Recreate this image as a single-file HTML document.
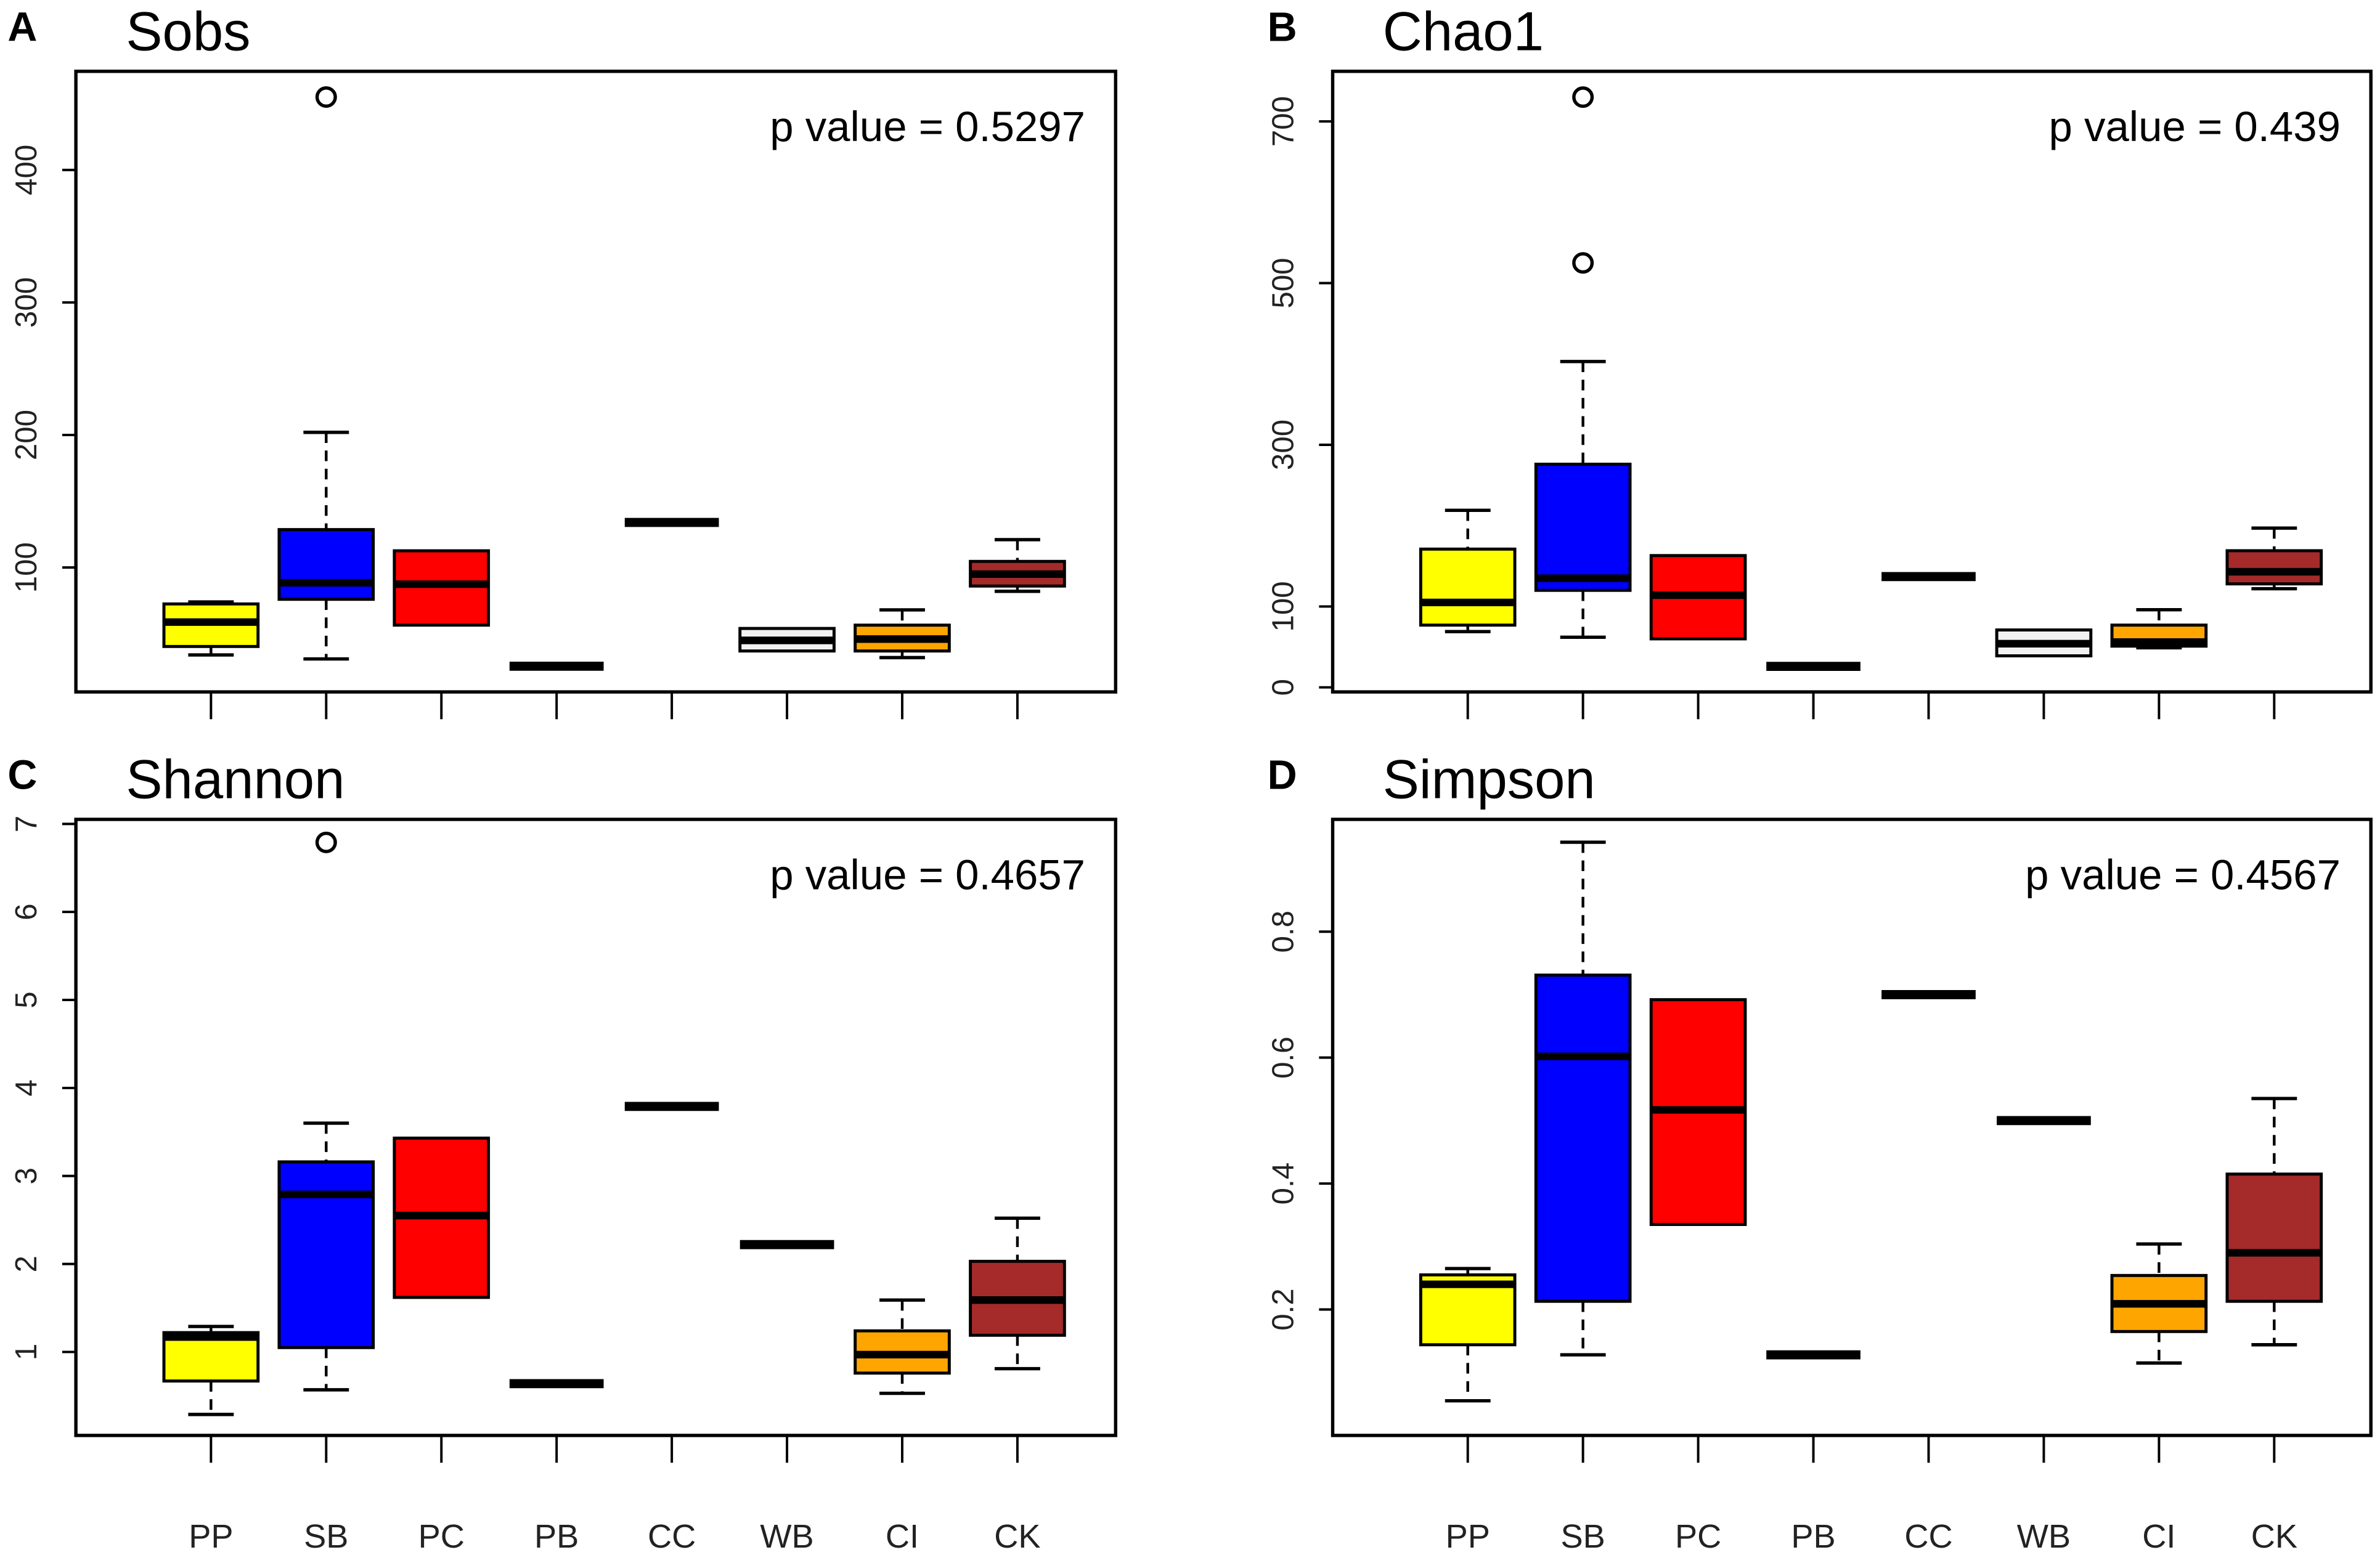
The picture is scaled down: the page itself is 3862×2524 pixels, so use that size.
<!DOCTYPE html>
<html><head><meta charset="utf-8"><style>
html,body{margin:0;padding:0;background:#fff}
svg{display:block}
text{font-family:"Liberation Sans",sans-serif}
</style></head><body>
<svg id="fig" width="3862" height="2524" viewBox="0 0 1568 1024.8" preserveAspectRatio="none" xmlns="http://www.w3.org/2000/svg"></svg>
<script>
const categories = ["PP","SB","PC","PB","CC","WB","CI","CK"];
const fills = ["#ffff00","#0000ff","#ff0000","#000","#000","#f2f2f2","#ffa500","#a52a2a"];

// Sobs
const sobsLo  = [34, 31, 56.5, 25.5, 134, 37, 32, 82];
const sobsQ1  = [40.4, 76, 56.5, 25.5, 134, 37, 37, 86];
const sobsMed = [58.8, 88.5, 87.4, 25.5, 134, 45, 46, 95];
const sobsQ3  = [72.5, 128.6, 112.6, 25.5, 134, 54, 56.5, 104.6];
const sobsHi  = [74, 202, 112.6, 25.5, 134, 54, 68, 121];
const sobsOut = [[], [455], [], [], [], [], [], []];
const sobsTicks = [100, 200, 300, 400];

// Chao1
const chaoLo  = [69, 62, 60, 26, 137, 39, 49, 122];
const chaoQ1  = [77, 120, 60, 26, 137, 39, 51, 128];
const chaoMed = [105, 135, 114, 26, 137, 54, 56, 143];
const chaoQ3  = [171, 276, 163, 26, 137, 71, 77, 169];
const chaoHi  = [219, 403, 163, 26, 137, 71, 96, 197];
const chaoOut = [[], [730, 525], [], [], [], [], [], []];
const chaoTicks = [0, 100, 300, 500, 700];

// Shannon
const shanLo  = [0.29, 0.57, 1.62, 0.64, 3.79, 2.22, 0.53, 0.81];
const shanQ1  = [0.67, 1.05, 1.62, 0.64, 3.79, 2.22, 0.76, 1.19];
const shanMed = [1.17, 2.79, 2.55, 0.64, 3.79, 2.22, 0.97, 1.59];
const shanQ3  = [1.22, 3.16, 3.43, 0.64, 3.79, 2.22, 1.24, 2.03];
const shanHi  = [1.29, 3.6, 3.43, 0.64, 3.79, 2.22, 1.59, 2.52];
const shanOut = [[], [6.79], [], [], [], [], [], []];
const shanTicks = [1, 2, 3, 4, 5, 6, 7];

// Simpson
const simpLo  = [0.055, 0.128, 0.335, 0.128, 0.70, 0.50, 0.115, 0.144];
const simpQ1  = [0.144, 0.213, 0.335, 0.128, 0.70, 0.50, 0.165, 0.213];
const simpMed = [0.24, 0.602, 0.517, 0.128, 0.70, 0.50, 0.209, 0.29];
const simpQ3  = [0.255, 0.731, 0.692, 0.128, 0.70, 0.50, 0.254, 0.415];
const simpHi  = [0.265, 0.942, 0.692, 0.128, 0.70, 0.50, 0.304, 0.535];
const simpOut = [[], [], [], [], [], [], [], []];
const simpTicks = [0.2, 0.4, 0.6, 0.8];

const NS = "http://www.w3.org/2000/svg";
const svg = document.getElementById("fig");
function mk(tag, attrs, parent) {
  const e = document.createElementNS(NS, tag);
  for (const k in attrs) e.setAttribute(k, attrs[k]);
  (parent || svg).appendChild(e);
  return e;
}

function panel(o) {
  const g = mk("g", {});
  
  
  const L = o.x0, R = o.x1, T = o.y0, B = o.y1;
  const yS = v => o.py1 + (v - o.v1) * (o.py2 - o.py1) / (o.v2 - o.v1);
  const xS = i => L + 89 + i * 75.9;

  const lt = mk("text", {x: o.lx, y: T - 20, "font-size": 27, "font-weight": "bold"}, g);
  lt.textContent = o.letter;
  
  
  const tt = mk("text", {x: L + 33, y: T - 14, "font-size": 36}, g);
  tt.textContent = o.title;
  
  

  const fr = mk("rect", {x: L, y: T, width: R - L, height: B - T, fill: "none", stroke: "#000", "stroke-width": 2.2}, g);
  
  

  const pv = mk("text", {x: R - 20, y: T + 46, "font-size": 28, "text-anchor": "end"}, g);
  pv.textContent = o.p;
  
  

  o.ticks.forEach(v => {
    const y = yS(v);
    const tk = mk("line", {x1: L - 9, x2: L, y1: y, y2: y, stroke: "#000", "stroke-width": 1.6}, g);
    
    
    const tl = mk("text", {x: L - 26, y: y, "font-size": 20, "text-anchor": "middle", transform: `rotate(-90 ${L - 26} ${y})`, fill: "#222"}, g);
    tl.textContent = String(v);
    
    
  });

  categories.forEach((c, i) => {
    const x = xS(i);
    const xt = mk("line", {x1: x, x2: x, y1: B, y2: B + 18, stroke: "#000", "stroke-width": 1.6}, g);
    
    
    if (o.xlabels) {
      const xl = mk("text", {x: x, y: 1020, "font-size": 22, "text-anchor": "middle", fill: "#222"}, g);
      xl.textContent = c;
      
      
    }
    const bg = mk("g", {}, g);
    
    
    const lo = o.lo[i], q1 = o.q1[i], md = o.med[i], q3 = o.q3[i], hi = o.hi[i];
    const hw = 31, cw = 15;
    if (q1 === q3) {
      const ln = mk("line", {x1: x - hw, x2: x + hw, y1: yS(md), y2: yS(md), stroke: "#000", "stroke-width": 6}, bg);
      
      
    } else {
      if (hi > q3) {
        mk("line", {x1: x, x2: x, y1: yS(hi), y2: yS(q3), stroke: "#000", "stroke-width": 1.8, "stroke-dasharray": "7 5"}, bg);
        mk("line", {x1: x - cw, x2: x + cw, y1: yS(hi), y2: yS(hi), stroke: "#000", "stroke-width": 2.2}, bg);
      }
      if (lo < q1) {
        mk("line", {x1: x, x2: x, y1: yS(q1), y2: yS(lo), stroke: "#000", "stroke-width": 1.8, "stroke-dasharray": "7 5"}, bg);
        mk("line", {x1: x - cw, x2: x + cw, y1: yS(lo), y2: yS(lo), stroke: "#000", "stroke-width": 2.2}, bg);
      }
      mk("rect", {x: x - hw, y: yS(q3), width: 2 * hw, height: yS(q1) - yS(q3), fill: fills[i], stroke: "#000", "stroke-width": 2}, bg);
      mk("line", {x1: x - hw, x2: x + hw, y1: yS(md), y2: yS(md), stroke: "#000", "stroke-width": 5}, bg);
    }
    o.out[i].forEach(v => {
      const pt = mk("circle", {cx: x, cy: yS(v), r: 6, fill: "#fff", stroke: "#000", "stroke-width": 2.2}, bg);
      
      
    });
  });
}

panel({name: "sobs", letter: "A", title: "Sobs", p: "p value = 0.5297", lx: 5, x0: 50, x1: 735, y0: 47, y1: 456,
  v1: 100, py1: 374, v2: 400, py2: 112, ticks: sobsTicks, xlabels: false,
  lo: sobsLo, q1: sobsQ1, med: sobsMed, q3: sobsQ3, hi: sobsHi, out: sobsOut});
panel({name: "chao1", letter: "B", title: "Chao1", p: "p value = 0.439", lx: 835, x0: 878, x1: 1562, y0: 47, y1: 456,
  v1: 0, py1: 453, v2: 700, py2: 80, ticks: chaoTicks, xlabels: false,
  lo: chaoLo, q1: chaoQ1, med: chaoMed, q3: chaoQ3, hi: chaoHi, out: chaoOut});
panel({name: "shannon", letter: "C", title: "Shannon", p: "p value = 0.4657", lx: 5, x0: 50, x1: 735, y0: 540, y1: 946,
  v1: 1, py1: 891, v2: 7, py2: 543, ticks: shanTicks, xlabels: true,
  lo: shanLo, q1: shanQ1, med: shanMed, q3: shanQ3, hi: shanHi, out: shanOut});
panel({name: "simpson", letter: "D", title: "Simpson", p: "p value = 0.4567", lx: 835, x0: 878, x1: 1562, y0: 540, y1: 946,
  v1: 0.2, py1: 863, v2: 0.8, py2: 614, ticks: simpTicks, xlabels: true,
  lo: simpLo, q1: simpQ1, med: simpMed, q3: simpQ3, hi: simpHi, out: simpOut});
</script>
</body></html>
